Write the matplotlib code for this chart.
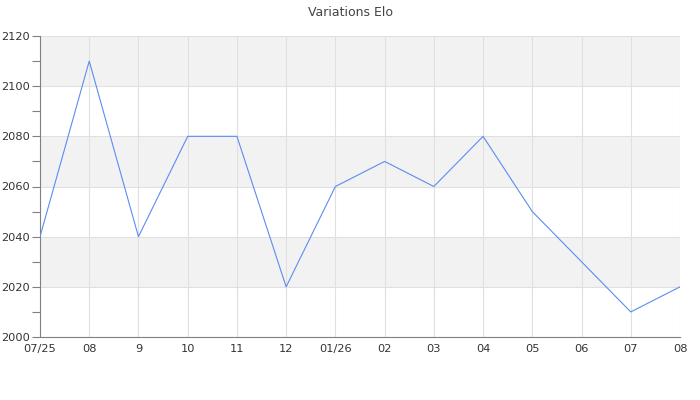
import matplotlib
matplotlib.use("Agg")
import matplotlib.pyplot as plt
from matplotlib.ticker import MultipleLocator

labels = ["07/25", "08", "9", "10", "11", "12", "01/26", "02", "03", "04", "05", "06", "07", "08"]
elo = [2040, 2110, 2040, 2080, 2080, 2020, 2060, 2070, 2060, 2080, 2050, 2030, 2010, 2020]

plt.rcParams['font.family'] = ['DejaVu Sans']
fig = plt.figure(figsize=(7, 4), dpi=100)
ax = fig.add_axes([40/700, 1-337/400, 640/700, (337-36)/400])

x = list(range(len(labels)))
for lo in (2020, 2060, 2100):
    ax.axhspan(lo, lo + 20, color="#f2f2f2", zorder=0, lw=0)

ax.plot(x, elo, color="#5b8def", lw=0.8, zorder=3)

ax.set_xlim(0, len(labels) - 1)
ax.set_ylim(2000, 2120)
ax.set_xticks(x)
ax.set_xticklabels(labels)
ax.yaxis.set_major_locator(MultipleLocator(20))
ax.yaxis.set_minor_locator(MultipleLocator(10))
ax.grid(True, which="major", color="#e0e0e0", lw=0.8, zorder=1)
ax.set_axisbelow(True)

for s in ("top", "right"):
    ax.spines[s].set_visible(False)
for s in ("left", "bottom"):
    ax.spines[s].set_color("#808080")
    ax.spines[s].set_linewidth(0.8)

ax.tick_params(axis="x", length=0, pad=5, labelsize=8.2, labelcolor="#333333")
ax.tick_params(axis="y", which="major", length=6, width=0.8, color="#808080", labelsize=8.2, labelcolor="#333333", pad=1.5)
ax.tick_params(axis="y", which="minor", length=6, width=0.8, color="#808080")

fig.text(0.5, 1 - 12/400, "Variations Elo", ha="center", va="center", fontsize=9, color="#444444")

fig.savefig("out.png", dpi=100)
